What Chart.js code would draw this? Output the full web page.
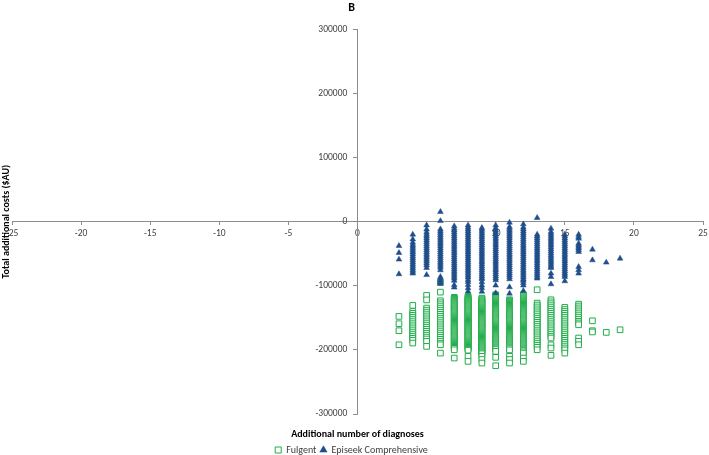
<!DOCTYPE html>
<html><head><meta charset="utf-8">
<script src="https://cdn.jsdelivr.net/npm/chart.js@4"></script>
<style>html,body{margin:0;padding:0;background:#fff}#wrap{width:709px;height:455px}</style>
</head><body><div id="wrap"><canvas id="c" width="709" height="455"></canvas></div>
<script>
const xTicks = [-25, -20, -15, -10, -5, 0, 5, 10, 15, 20, 25];
const yTicks = [-300000, -200000, -100000, 0, 100000, 200000, 300000];
const diagnoses = [3, 4, 5, 6, 7, 8, 9, 10, 11, 12, 13, 14, 15, 16, 17, 18, 19];

const episeekCosts = [
  [-37700, -48600, -58900, -81800],
  [-20000, -27500, -32500, -36000, -39000, -42000, -45000, -48000, -51000, -54000, -57000, -60000, -63000, -66000, -69000, -72000, -75000, -78000, -80700],
  [-5500, -12000, -16500, -20000, -23000, -26000, -29000, -32000, -35000, -38000, -41000, -44000, -47000, -50000, -53000, -56000, -59000, -62000, -65000, -68000, -72000, -83000],
  [15300, 1200, -11700, -14500, -17500, -20500, -23500, -26500, -29500, -32500, -35500, -38500, -41500, -44500, -47500, -50500, -53500, -56500, -59500, -62500, -65500, -68500, -71500, -75600, -86000, -89000, -92000, -95000, -97000],
  [-7000, -10600, -13500, -16500, -19500, -22500, -25500, -28500, -31500, -34500, -37500, -40500, -43500, -46500, -49500, -52500, -55500, -58500, -61500, -64500, -67500, -70500, -73500, -76500, -79500, -82500, -85500, -88500, -92000, -99000, -102600],
  [-5500, -9000, -12000, -15000, -18000, -21000, -24000, -27000, -30000, -33000, -36000, -39000, -42000, -45000, -48000, -51000, -54000, -57000, -60000, -63000, -66000, -69000, -72000, -75000, -78000, -81000, -84000, -87000, -90700, -94000, -98500, -103600, -108800],
  [-9600, -12500, -15500, -18500, -21500, -24500, -27500, -30500, -33500, -36500, -39500, -42500, -45500, -48500, -51500, -54500, -57500, -60500, -63500, -66500, -69500, -72500, -75500, -78500, -81500, -84500, -87500, -89600, -94300, -99400, -103600, -109000],
  [-5500, -10000, -13000, -16000, -19000, -22000, -25000, -28000, -31000, -34000, -37000, -40000, -43000, -46000, -49000, -52000, -55000, -58000, -61000, -64000, -67000, -70000, -73000, -76000, -79000, -82000, -85000, -88000, -91000, -99400, -111400],
  [-1300, -8000, -11000, -14000, -17000, -20000, -23000, -26000, -29000, -32000, -35000, -38000, -41000, -44000, -47000, -50000, -53000, -56000, -59000, -62000, -65000, -68000, -71000, -74000, -77000, -80000, -83000, -86000, -89600, -102000, -112000],
  [-3900, -9000, -12000, -15000, -18000, -21000, -24000, -27000, -30000, -33000, -36000, -39000, -42000, -45000, -48000, -51000, -54000, -57000, -60000, -63000, -66000, -69000, -72000, -75000, -78000, -81000, -84000, -87000, -90000, -92000, -95500, -99400, -107800],
  [6000, -20000, -23000, -26000, -29000, -32000, -35000, -38000, -41000, -44000, -47000, -50000, -53000, -56000, -59000, -62000, -65000, -68000, -71000, -74000, -77000, -80000, -83000, -86000, -88500],
  [-10600, -15900, -19000, -22000, -25000, -28000, -31000, -34000, -37000, -40000, -43000, -46000, -49000, -52000, -55000, -58000, -61000, -64000, -67000, -70000, -72000, -80700, -86000, -97400],
  [-20000, -23000, -26000, -29000, -32000, -35000, -38000, -41000, -44000, -47000, -50000, -53000, -56000, -59000, -62000, -65000, -68000, -71000, -74000, -77000, -80000, -83000, -86000, -92700],
  [-20000, -23700, -26200, -34000, -36500, -39000, -41500, -44000, -47000, -70400, -75600, -80700],
  [-43400, -60000],
  [-63600],
  [-57400]
];

const fulgentCosts = [
  [-147700, -159200, -170100, -192000],
  [-130600, -140000, -143000, -146000, -149000, -152000, -155000, -158000, -161000, -164000, -167000, -170000, -173000, -176000, -179000, -182000, -185000, -189300],
  [-115000, -122000, -134800, -138000, -141000, -144000, -147000, -150000, -153000, -156000, -159000, -162000, -165000, -168000, -171000, -174000, -177000, -180000, -183000, -186700, -194500],
  [-94300, -109900, -123400, -126500, -129500, -132500, -135500, -138500, -141500, -144500, -147500, -150500, -153500, -156500, -159500, -162500, -165500, -168500, -171500, -174500, -177500, -180500, -183500, -186500, -189500, -192000, -205000],
  [-118000, -119500, -121000, -122500, -124000, -125500, -127000, -128500, -130000, -131500, -133000, -134500, -136000, -137500, -139000, -140500, -142000, -143500, -145000, -146500, -148000, -149500, -151000, -152500, -154000, -155500, -157000, -158500, -160000, -161500, -163000, -164500, -166000, -167500, -169000, -170500, -172000, -173500, -175000, -176500, -178000, -179500, -181000, -182500, -184000, -185500, -187000, -188500, -190000, -191500, -193000, -194500, -196000, -197500, -199800, -212700],
  [-116600, -118000, -119500, -121000, -122500, -124000, -125500, -127000, -128500, -130000, -131500, -133000, -134500, -136000, -137500, -139000, -140500, -142000, -143500, -145000, -146500, -148000, -149500, -151000, -152500, -154000, -155500, -157000, -158500, -160000, -161500, -163000, -164500, -166000, -167500, -169000, -170500, -172000, -173500, -175000, -176500, -178000, -179500, -181000, -182500, -184000, -185500, -187000, -188500, -190000, -191500, -193000, -194500, -196000, -197500, -199000, -200500, -210000, -217900],
  [-119200, -120500, -122000, -123500, -125000, -126500, -128000, -129500, -131000, -132500, -134000, -135500, -137000, -138500, -140000, -141500, -143000, -144500, -146000, -147500, -149000, -150500, -152000, -153500, -155000, -156500, -158000, -159500, -161000, -162500, -164000, -165500, -167000, -168500, -170000, -171500, -173000, -174500, -176000, -177500, -179000, -180500, -182000, -183500, -185000, -186500, -188000, -189500, -191000, -192500, -194000, -195500, -197000, -198500, -200000, -201500, -203000, -204500, -206000, -210000, -215000, -220500],
  [-114000, -115500, -117000, -118500, -120000, -121500, -123000, -124500, -126000, -127500, -129000, -130500, -132000, -133500, -135000, -136500, -138000, -139500, -141000, -142500, -144000, -145500, -147000, -148500, -150000, -151500, -153000, -154500, -156000, -157500, -159000, -160500, -162000, -163500, -165000, -166500, -168000, -169500, -171000, -172500, -174000, -175500, -177000, -178500, -180000, -181500, -183000, -184500, -186000, -187500, -189000, -190500, -192000, -193500, -195000, -196500, -198000, -199500, -202300, -211600, -224700],
  [-121800, -123000, -124500, -126000, -127500, -129000, -130500, -132000, -133500, -135000, -136500, -138000, -139500, -141000, -142500, -144000, -145500, -147000, -148500, -150000, -151500, -153000, -154500, -156000, -157500, -159000, -160500, -162000, -163500, -165000, -166500, -168000, -169500, -171000, -172500, -174000, -175500, -177000, -178500, -180000, -181500, -183000, -184500, -186000, -187500, -189000, -190500, -192000, -193500, -195000, -196500, -198000, -200000, -210000, -215000, -220500],
  [-114000, -115500, -117000, -118500, -120000, -121500, -123000, -124500, -126000, -127500, -129000, -130500, -132000, -133500, -135000, -136500, -138000, -139500, -141000, -142500, -144000, -145500, -147000, -148500, -150000, -151500, -153000, -154500, -156000, -157500, -159000, -160500, -162000, -163500, -165000, -166500, -168000, -169500, -171000, -172500, -174000, -175500, -177000, -178500, -180000, -181500, -183000, -184500, -186000, -187500, -189000, -190500, -192000, -193500, -195000, -196500, -198000, -199500, -201000, -203000, -205000, -212700, -217900],
  [-106200, -127000, -130000, -133000, -136000, -139000, -142000, -145000, -148000, -151000, -154000, -157000, -160000, -163000, -166000, -169000, -172000, -175000, -178000, -181000, -184000, -187000, -190000, -193000, -196000, -199800],
  [-121800, -125000, -128000, -131000, -134000, -137000, -140000, -143000, -146000, -149000, -152000, -155000, -158000, -161000, -164000, -167000, -170000, -173000, -176000, -179000, -181500, -192000, -197100, -208500],
  [-133700, -137000, -140000, -143000, -146000, -149000, -152000, -155000, -158000, -161000, -164000, -167000, -170000, -173000, -176000, -179000, -182000, -185000, -188000, -191000, -194000, -197000, -200000, -205000],
  [-128600, -131500, -134500, -137500, -140500, -143500, -146500, -149500, -152500, -155500, -158000, -160800, -181500, -186700, -192000],
  [-154600, -170100, -172000],
  [-172700],
  [-168600]
];

const seriesLabels = ['Fulgent', 'Episeek Comprehensive'];
const chartTitle = 'B';
const xTitle = 'Additional number of diagnoses';
const yTitle = 'Total additional costs ($AU)';

function toPoints(costs) {
  const pts = [];
  diagnoses.forEach((x, i) => costs[i].forEach(y => pts.push({x: x, y: y})));
  return pts;
}

const FONT = 'Carlito, Calibri, Lato, "Open Sans", sans-serif';
const axisColor = '#8c8c8c';
const textColor = '#404040';
const green = '#22ad4b';
const blue = '#1f4e8a';

new Chart(document.getElementById('c'), {
  type: 'scatter',
  data: {
    datasets: [
      {label: seriesLabels[0], data: toPoints(fulgentCosts), pointStyle: 'rect', pointRadius: 4,
       borderColor: green, backgroundColor: '#ffffff', borderWidth: 1, order: 2},
      {label: seriesLabels[1], data: toPoints(episeekCosts), pointStyle: 'triangle', pointRadius: 3.3,
       borderColor: blue, backgroundColor: blue, borderWidth: 0.5, order: 1}
    ]
  },
  options: {
    responsive: false, animation: false, events: [],
    layout: {padding: {left: 0, right: 6, top: 0, bottom: 0}},
    plugins: {
      tooltip: {enabled: false},
      title: {display: true, text: chartTitle, color: '#000', font: {family: FONT, size: 12, weight: 'bold'}, padding: {top: 1, bottom: 14}},
      legend: {
        position: 'bottom', maxHeight: 14,
        labels: {usePointStyle: true, boxWidth: 6, boxHeight: 6, padding: 4, color: textColor,
                 font: {family: FONT, size: 10},
                 sort: (a, b) => a.datasetIndex - b.datasetIndex}
      }
    },
    scales: {
      x: {
        type: 'linear', min: -25, max: 25, position: {y: 0},
        afterBuildTicks: s => { s.ticks = xTicks.map(v => ({value: v})); },
        afterFit: s => { s.paddingLeft = 0; s.paddingRight = 0; },
        ticks: {color: textColor, font: {family: FONT, size: 9.5}, padding: 3, maxRotation: 0, autoSkip: false, callback: v => String(v)},
        grid: {display: true, drawOnChartArea: false, drawTicks: true, tickLength: 3, color: axisColor},
        border: {display: true, color: axisColor, width: 1}
      },
      y: {
        type: 'linear', min: -300000, max: 300000, position: {x: 0},
        afterBuildTicks: s => { s.ticks = yTicks.map(v => ({value: v})); },
        afterFit: s => { s.paddingTop = 0; s.paddingBottom = 0; },
        ticks: {color: textColor, font: {family: FONT, size: 9.5}, padding: 5, autoSkip: false, callback: v => String(v) + '\u2007\u2007'},
        grid: {display: true, drawOnChartArea: false, drawTicks: true, tickLength: 4, color: axisColor},
        border: {display: true, color: axisColor, width: 1}
      },
      yt: {
        type: 'linear', position: 'left', display: true,
        afterFit: s => { s.width = 12; },
        ticks: {display: false}, grid: {display: false}, border: {display: false},
        title: {display: true, text: yTitle, color: '#000', font: {family: FONT, size: 10, weight: 'bold'}, padding: {top: 0, bottom: 0}}
      },
      xt: {
        type: 'linear', position: 'bottom', display: true,
        afterFit: s => { s.height = 27; },
        ticks: {display: false}, grid: {display: false}, border: {display: false},
        title: {display: true, text: xTitle, color: '#000', font: {family: FONT, size: 10, weight: 'bold'}, padding: {top: 14, bottom: 1}}
      }
    }
  }
});
</script>
</body></html>
